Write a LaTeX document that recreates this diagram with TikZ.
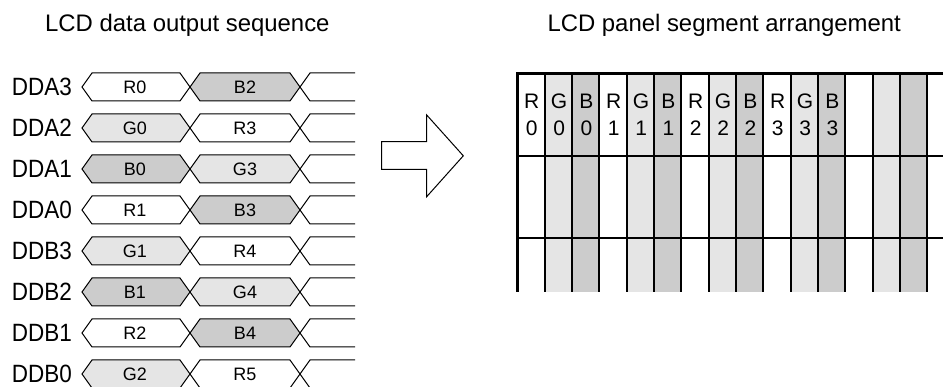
\documentclass[tikz,border=0pt]{standalone}
\usepackage{fontspec}
\setmainfont{Liberation Sans}
\newfontfamily\narrowsans[FakeStretch=0.9]{Liberation Sans}
\usepackage{tikz}

\begin{document}
\begin{tikzpicture}[x=1pt, y=-1pt]
\def\rcolor{white}
\def\gcolor{gray!20}
\def\bcolor{gray!40}
\def\colw{27.33}
\def\panelh{218.7}
\def\titlefont{\fontsize{23.9}{28}\selectfont}
\def\labelfont{\narrowsans\fontsize{25}{29}\selectfont}
\def\cellfont{\fontsize{18}{21}\selectfont}
\def\segfont{\fontsize{21}{24}\selectfont}
\tikzset{
  signal/.style={line width=1pt, line join=miter},
  celltext/.style={anchor=base, inner sep=0pt, font=\cellfont},
  seglabel/.style={anchor=base, inner sep=0pt, font=\segfont}
}
\useasboundingbox (0,0) rectangle (943,387);
\clip (0,0) rectangle (943,387);

\node [anchor=base west, inner sep=0pt, font=\titlefont] (seqtitle) at (45, 31.7) {LCD data output sequence};
\node [anchor=base west, inner sep=0pt, font=\titlefont] (paneltitle) at (547.3, 31.7) {LCD panel segment arrangement};

\begin{scope}[shift={(0, 87)}] % OUTPUT SEQUENCE
\foreach \name/\fa/\ta/\fb/\tb [count=\i from 0] in {DDA3/\rcolor/R0/\bcolor/B2, DDA2/\gcolor/G0/\rcolor/R3, DDA1/\bcolor/B0/\gcolor/G3, DDA0/\rcolor/R1/\bcolor/B3, DDB3/\gcolor/G1/\rcolor/R4, DDB2/\bcolor/B1/\gcolor/G4, DDB1/\rcolor/R2/\bcolor/B4, DDB0/\gcolor/G2/\rcolor/R5} {
\begin{scope}[shift={(0, 41*\i)}]
\filldraw[signal, fill=\fa] (82, 0) -- (92, -14) -- (180, -14) -- (190, 0) -- (180, 14) -- (92, 14) -- cycle;
\filldraw[signal, fill=\fb] (190, 0) -- (200, -14) -- (290, -14) -- (300, 0) -- (290, 14) -- (200, 14) -- cycle;
\draw[signal] (355, -14) -- (310, -14) -- (300, 0) -- (310, 14) -- (355, 14);

\node [anchor=base east, inner sep=0pt, font=\labelfont] (sig\i) at (72, 9) {\name};
\node [celltext] (first\i) at (135, 6.5) {\ta};
\node [celltext] (second\i) at (245, 6.5) {\tb};
\end{scope}
}
\end{scope}

% conversion arrow
\draw[line width=1pt, line join=miter] (381.7, 141.7) -- (426.7, 141.7) -- (426.7, 115) -- (463.3, 155.8) -- (426.7, 196.7) -- (426.7, 169.3) -- (381.7, 169.3) -- cycle;

\begin{scope}[shift={(517.3, 73.3)}] % PANEL
\foreach \g in {0,...,4} {
\fill[\gcolor] ({\colw*(3*\g+1)}, 0) rectangle +(\colw, \panelh);
\fill[\bcolor] ({\colw*(3*\g+2)}, 0) rectangle +(\colw, \panelh);
}
\foreach \k in {1,...,15}
  \draw[line width=2pt] ({\colw*\k}, 0) -- +(0, \panelh);
\draw[line width=2pt] (0, 82.4) -- (440, 82.4);
\draw[line width=2pt] (0, 164.7) -- (440, 164.7);
\draw[line width=3pt] (0, \panelh) -- (0, 0) -- (440, 0);

\foreach \c/\d [count=\k from 0] in {R/0, G/0, B/0, R/1, G/1, B/1, R/2, G/2, B/2, R/3, G/3, B/3} {
\node [seglabel] (seg\k) at ({\colw*\k+14.5}, 35) {\c};
\node [seglabel] (segnum\k) at ({\colw*\k+14.5}, 62.7) {\d};
}
\end{scope}
\end{tikzpicture}
\end{document}
